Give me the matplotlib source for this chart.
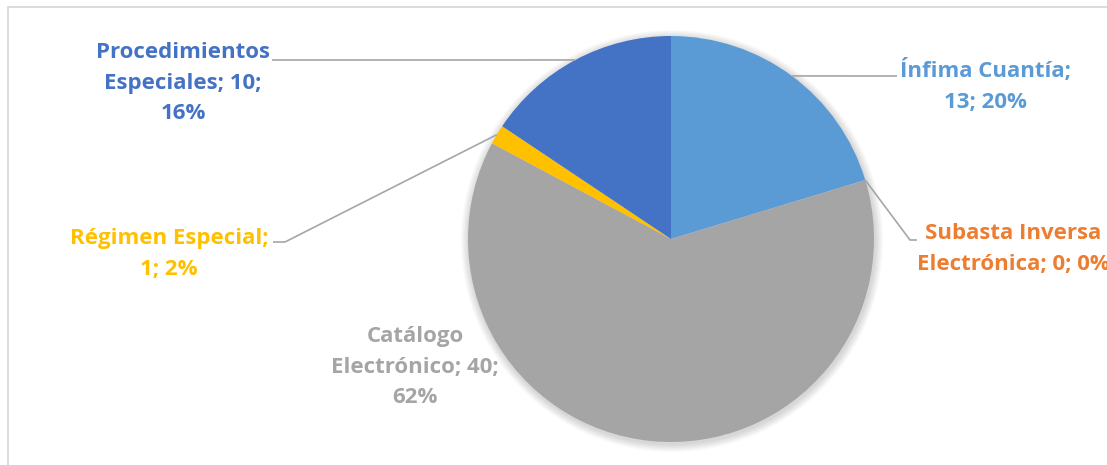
import numpy as np
import matplotlib.pyplot as plt
from matplotlib.patches import Circle, Rectangle

# data
categories = ['Ínfima Cuantía', 'Subasta Inversa Electrónica', 'Catálogo Electrónico',
              'Régimen Especial', 'Procedimientos Especiales']
values = [13, 0, 40, 1, 10]
percents = [20, 0, 62, 2, 16]
colors = ['#5B9BD5', '#ED7D31', '#A5A5A5', '#FFC000', '#4472C4']
labels = ['Ínfima Cuantía;\n13; 20%',
          'Subasta Inversa\nElectrónica; 0; 0%',
          'Catálogo\nElectrónico; 40;\n62%',
          'Régimen Especial;\n1; 2%',
          'Procedimientos\nEspeciales; 10;\n16%']

W, H = 1107, 465
fig = plt.figure(figsize=(W / 100, H / 100), dpi=100)
ax = fig.add_axes([0, 0, 1, 1])

cx, cy, r = 671, H - 239, 203

# soft shadow round the pie
for k in range(8):
    ax.add_patch(Circle((cx + 1, cy - 2), r + 1 + k, color='black', alpha=0.018, lw=0, zorder=0))

wedges, _ = ax.pie(values, colors=colors, startangle=90, counterclock=False,
                   center=(cx, cy), radius=r, wedgeprops=dict(linewidth=0))

ax.set_xlim(0, W)
ax.set_ylim(0, H)
ax.set_aspect('equal')
ax.axis('off')

# label layout (pixel positions, y up)
text_pos = [(985, H - 86), (1013, H - 249), (415, H - 367), (169, H - 254), (183, H - 83)]
leader_pts = [[(897, H - 76)],
              [(910, H - 240), (917, H - 240)],
              None,
              [(285, H - 242), (273, H - 242)],
              [(272, H - 60)]]

for i, w in enumerate(wedges):
    mid = np.deg2rad((w.theta1 + w.theta2) / 2)
    anchor = (cx + r * np.cos(mid), cy + r * np.sin(mid))
    if leader_pts[i] is not None:
        pts = [anchor] + leader_pts[i]
        xs = [p[0] for p in pts]
        ys = [p[1] for p in pts]
        ax.plot(xs, ys, color='#A6A6A6', lw=1.2, zorder=3, solid_capstyle='butt')
    ax.text(text_pos[i][0], text_pos[i][1], labels[i], color=colors[i],
            fontsize=16, fontweight='bold', family='Open Sans',
            ha='center', va='center', multialignment='center', linespacing=1.62, zorder=4)

# chart border (cut off at right and bottom)
ax.add_patch(Rectangle((8, -20), 1300, H - 7 + 20, fill=False, edgecolor='#D9D9D9', lw=1.3, zorder=5))

fig.savefig('out.png', dpi=100)
